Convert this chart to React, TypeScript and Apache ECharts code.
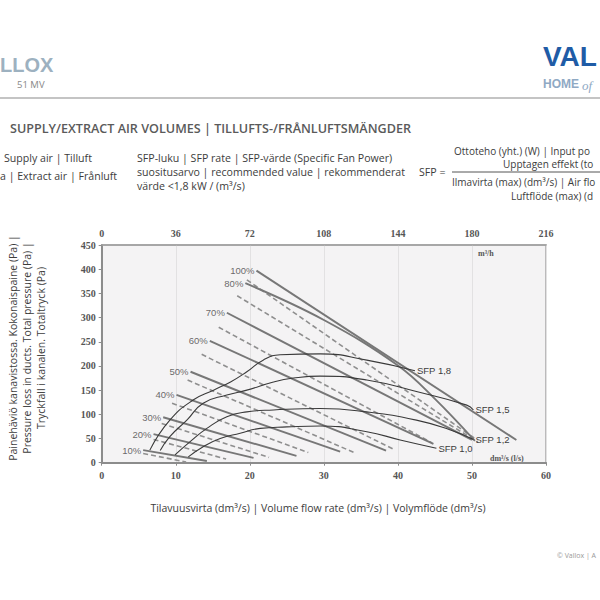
import React, { useEffect, useRef } from "react";
import * as echarts from "echarts";

// ---- axes ----
const flowMin = 0;
const flowMax = 60;
const flowStep = 10;
const m3hMin = 0;
const m3hMax = 216;
const m3hStep = 36;
const paMin = 0;
const paMax = 450;
const paStep = 50;

// ---- fan levels ----
const fanLabels = ["10%", "20%", "30%", "40%", "50%", "60%", "70%", "80%", "100%"];

// supply air (solid) : [flow dm3/s, pressure Pa]
const supply10 = [[5.6, 26], [14.2, 3.5]];
const supply20 = [[7.0, 59], [20.5, 10]];
const supply30 = [[8.3, 94], [26.3, 14]];
const supply40 = [[10.1, 140], [32.2, 23]];
const supply50 = [[12.0, 188], [38.4, 25]];
const supply60 = [[14.6, 252], [44.8, 39]];
const supply70 = [[16.9, 310], [50.0, 47]];
const supply80 = [[19.4, 371], [30.0, 295], [40.0, 201], [45.0, 132], [50.4, 45]];
const supply100 = [[20.9, 397], [56.0, 47]];

// extract air (dashed)
const extract10 = [[5.6, 19], [11.4, 1.5]];
const extract20 = [[7.0, 48], [16.8, 7.6]];
const extract30 = [[8.1, 81], [22.6, 11]];
const extract40 = [[9.5, 123], [27.9, 21]];
const extract50 = [[11.6, 171], [34.0, 21.5]];
const extract60 = [[13.5, 224], [39.4, 28]];
const extract70 = [[15.8, 280], [44.6, 41]];
const extract80 = [[18.3, 345], [50.8, 43]];
const extract100 = [[19.6, 378], [50.3, 51]];

const supplyLines = [supply10, supply20, supply30, supply40, supply50, supply60, supply70, supply80, supply100];
const extractLines = [extract10, extract20, extract30, extract40, extract50, extract60, extract70, extract80, extract100];

// SFP iso-curves
const sfpLabels = ["SFP 1,0", "SFP 1,2", "SFP 1,5", "SFP 1,8"];
const sfp10 = [[11.7, 12], [13.7, 33], [16.0, 50], [18.7, 61], [21.4, 71], [25.0, 74], [29.5, 76], [35.8, 64], [40.3, 47], [45.2, 30]];
const sfp12 = [[9.9, 16], [11.9, 43], [14.2, 71], [16.9, 95], [19.6, 105], [23.2, 109], [29.5, 112], [35.8, 105], [42.5, 88], [47.0, 68], [50.2, 48]];
const sfp15 = [[7.9, 25], [9.2, 54], [11.5, 88], [13.7, 123], [16.9, 140], [19.6, 150], [23.2, 167], [25.9, 175], [29.5, 179], [35.8, 171], [42.5, 147], [49.3, 119], [50.2, 109]];
const sfp18 = [[6.5, 26], [9.2, 88], [12.4, 130], [15.1, 150], [17.4, 167], [19.6, 188], [21.8, 212], [24.1, 223], [29.5, 225], [35.8, 212], [42.3, 190]];
const sfpCurves = [sfp10, sfp12, sfp15, sfp18];

const tickFont = "Liberation Serif";
const sansFont = "Open Sans";

export default function App() {
  const ref = useRef<HTMLDivElement>(null);

  useEffect(() => {
    if (!ref.current) return;
    const chart = echarts.init(ref.current, undefined, { renderer: "svg" });

    const series: any[] = [];
    extractLines.forEach((d, i) => {
      series.push({
        type: "line",
        name: "extract " + fanLabels[i],
        data: d,
        symbol: "none",
        silent: true,
        z: 2,
        lineStyle: { color: "#8f8f8f", width: 1.6, type: [5, 3] },
      });
    });
    supplyLines.forEach((d, i) => {
      series.push({
        type: "line",
        name: "supply " + fanLabels[i],
        data: d,
        symbol: "none",
        smooth: d.length > 2 ? 0.4 : false,
        silent: true,
        z: 3,
        lineStyle: { color: "#777777", width: 1.9 },
      });
    });
    sfpCurves.forEach((d, i) => {
      series.push({
        type: "line",
        name: sfpLabels[i],
        data: d,
        symbol: "none",
        smooth: 0.5,
        silent: true,
        z: 4,
        lineStyle: { color: "#3a3a3a", width: 1.1 },
        endLabel: {
          show: true,
          formatter: sfpLabels[i],
          color: "#3c3c3c",
          fontFamily: "Liberation Sans",
          fontSize: 9.5,
          distance: 2,
        },
      });
    });
    series.push({
      type: "scatter",
      name: "levels",
      symbol: "circle",
      symbolSize: 0,
      silent: true,
      z: 5,
      data: supplyLines.map((d, i) => ({ name: fanLabels[i], value: d[0] })),
      label: {
        show: true,
        position: "left",
        distance: 2,
        formatter: (p: any) => p.name,
        color: "#444",
        fontFamily: "Liberation Sans",
        fontSize: 9.5,
      },
    });

    const txt = (x: number, y: number, text: string, opts: any = {}) => ({
      type: "text",
      x,
      y,
      silent: true,
      rotation: opts.rotation || 0,
      style: {
        text,
        fill: opts.fill || "#3c3c3c",
        font: opts.font || `10px ${sansFont}`,
        align: opts.align || "left",
        verticalAlign: "middle",
      },
    });

    const bodyFont = `10.6px ${sansFont}`;
    const fracFont = `10px ${sansFont}`;
    const titleFont = `10.5px ${sansFont}`;

    const option: any = {
      animation: false,
      backgroundColor: "#ffffff",
      grid: {
        left: 101.7,
        right: 54,
        top: 245,
        bottom: 137.3,
        show: true,
        backgroundColor: "#f4f3f4",
        borderColor: "#a8a8a8",
        borderWidth: 1.5,
      },
      xAxis: [
        {
          type: "value",
          min: flowMin,
          max: flowMax,
          interval: flowStep,
          position: "bottom",
          axisLine: { show: true, lineStyle: { color: "#8c8c8c", width: 2 } },
          axisTick: { show: true, length: 3, lineStyle: { color: "#8c8c8c" } },
          splitLine: { show: true, lineStyle: { color: "#e2e1e2", width: 1 } },
          axisLabel: { margin: 8, color: "#555", fontFamily: tickFont, fontWeight: "bold", fontSize: 10 },
        },
        {
          type: "value",
          min: m3hMin,
          max: m3hMax,
          interval: m3hStep,
          position: "top",
          axisLine: { show: true, lineStyle: { color: "#a0a0a0", width: 1.5 } },
          axisTick: { show: false },
          splitLine: { show: false },
          axisLabel: { margin: 7, color: "#555", fontFamily: tickFont, fontWeight: "bold", fontSize: 10 },
        },
      ],
      yAxis: {
        type: "value",
        min: paMin,
        max: paMax,
        interval: paStep,
        axisLine: { show: true, lineStyle: { color: "#8c8c8c", width: 2 } },
        axisTick: { show: true, length: 3, lineStyle: { color: "#8c8c8c" } },
        splitLine: { show: false },
        axisLabel: { margin: 6, color: "#555", fontFamily: tickFont, fontWeight: "bold", fontSize: 10 },
      },
      series,
      graphic: [
        // logos / header
        txt(0, 65, "LLOX", { font: `bold 20px Liberation Sans`, fill: "#9db1c0" }),
        txt(17, 84, "51 MV", { font: `9.5px ${sansFont}`, fill: "#888" }),
        txt(543, 56, "VAL", { font: `bold 28px Liberation Sans`, fill: "#1f5ca6" }),
        txt(543, 84, "HOME", { font: `bold 12px Liberation Sans`, fill: "#8fa9c4" }),
        txt(582, 85, "of", { font: `italic 13px Liberation Serif`, fill: "#8fa9c4" }),
        {
          type: "line",
          silent: true,
          shape: { x1: 0, y1: 98, x2: 600, y2: 98 },
          style: { stroke: "#b0b0b0", lineWidth: 1.5 },
        },
        txt(10, 128, "SUPPLY/EXTRACT AIR VOLUMES | TILLUFTS-/FRÅNLUFTSMÄNGDER", {
          font: `600 12.6px ${sansFont}`,
          fill: "#5a5a5a",
        }),
        txt(4, 158, "Supply air | Tilluft", { font: bodyFont }),
        txt(0, 176, "a | Extract air | Frånluft", { font: bodyFont }),
        txt(137, 158, "SFP-luku | SFP rate | SFP-värde (Specific Fan Power)", { font: bodyFont }),
        txt(137, 172, "suositusarvo | recommended value | rekommenderat", { font: bodyFont }),
        txt(137, 186, "värde <1,8 kW / (m³/s)", { font: bodyFont }),
        txt(419, 172, "SFP =", { font: bodyFont }),
        txt(454, 151, "Ottoteho (yht.) (W) | Input po", { font: fracFont }),
        txt(503, 164, "Upptagen effekt (to", { font: fracFont }),
        {
          type: "line",
          silent: true,
          shape: { x1: 452, y1: 172, x2: 600, y2: 172 },
          style: { stroke: "#555", lineWidth: 1 },
        },
        txt(452, 182, "Ilmavirta (max) (dm³/s) | Air flo", { font: fracFont }),
        txt(511, 196, "Luftflöde (max) (d", { font: fracFont }),
        // axis titles
        txt(13, 348, "Painehäviö kanavistossa. Kokonaispaine (Pa) |", {
          font: titleFont, align: "center", rotation: Math.PI / 2,
        }),
        txt(27, 348, "Pressure loss in ducts. Total pressure (Pa) |", {
          font: titleFont, align: "center", rotation: Math.PI / 2,
        }),
        txt(41, 348, "Tryckfall i kanalen. Totaltryck (Pa)", {
          font: titleFont, align: "center", rotation: Math.PI / 2,
        }),
        txt(318, 508, "Tilavuusvirta (dm³/s) | Volume flow rate (dm³/s) | Volymflöde (dm³/s)", {
          font: titleFont, align: "center",
        }),
        // unit labels in the plot
        txt(478, 253, "m³/h", { font: `bold 8px ${tickFont}`, fill: "#555" }),
        txt(490, 458, "dm³/s (l/s)", { font: `bold 8px ${tickFont}`, fill: "#555" }),
        txt(557, 555, "© Vallox | A", { font: `7px ${sansFont}`, fill: "#999" }),
      ],
    };

    chart.setOption(option);
    return () => chart.dispose();
  }, []);

  return (
    <div
      ref={ref}
      style={{ position: "fixed", left: 0, top: 0, width: 600, height: 600, background: "#fff" }}
    />
  );
}
